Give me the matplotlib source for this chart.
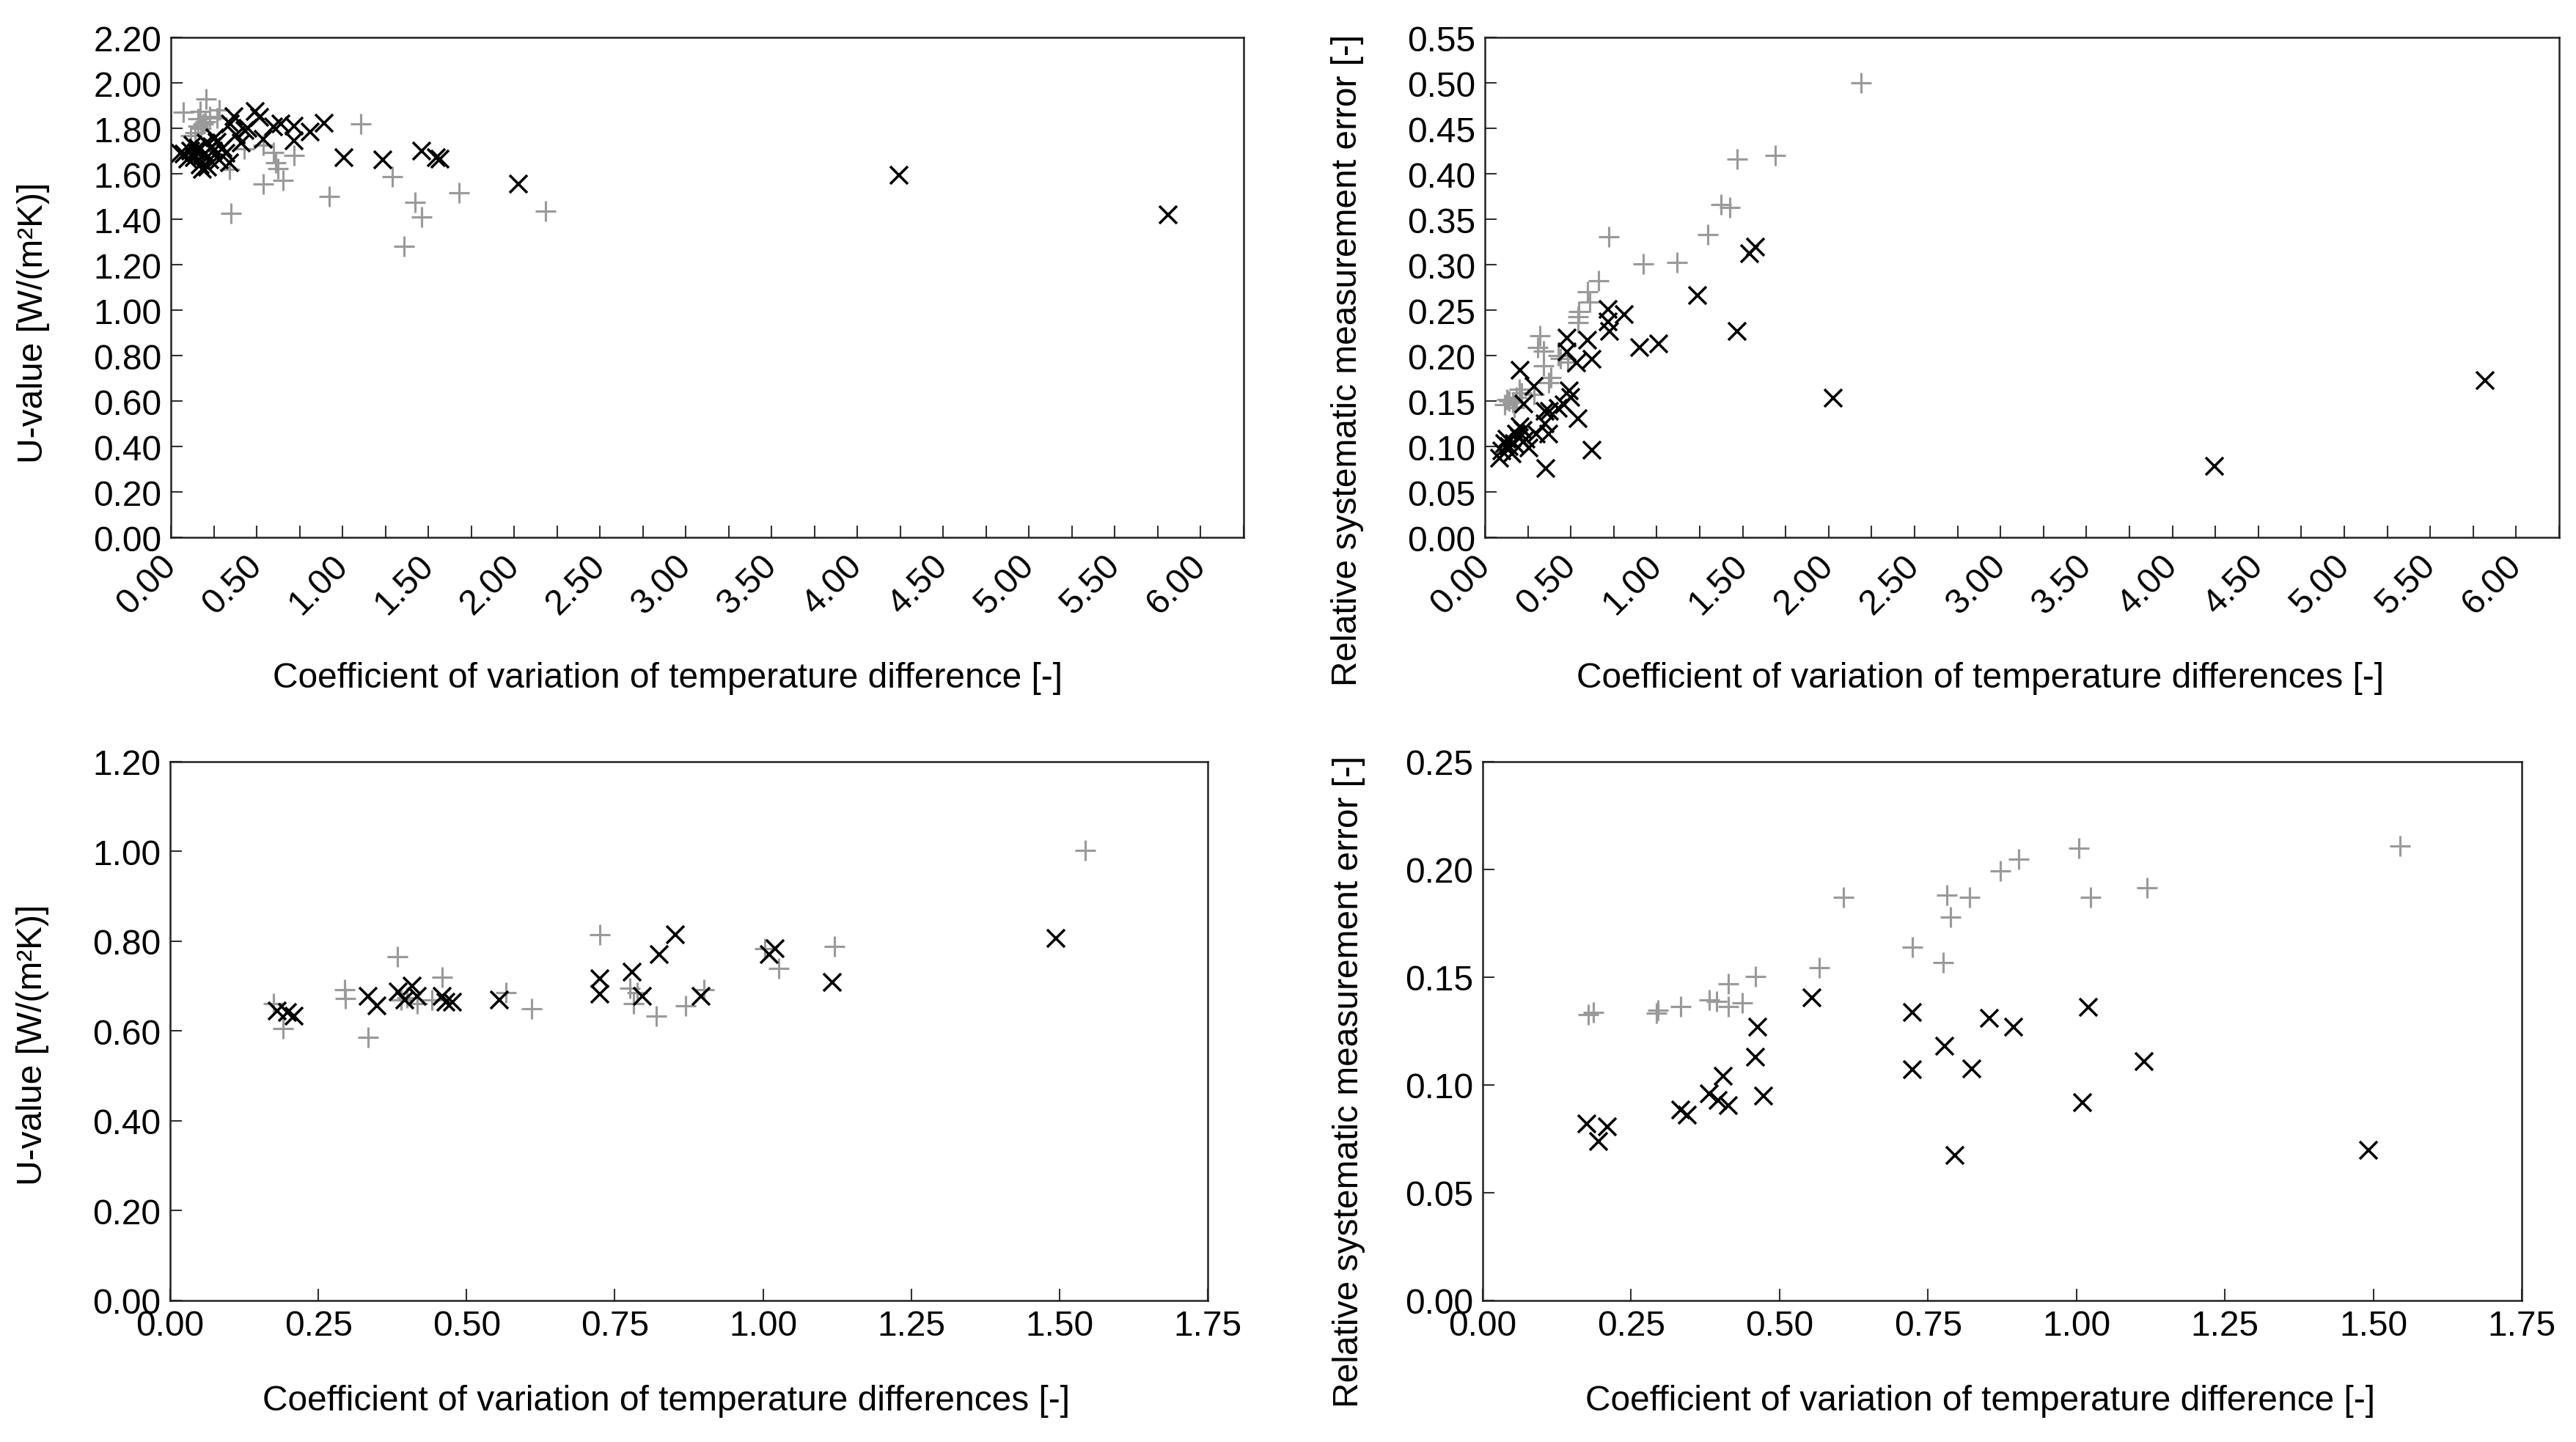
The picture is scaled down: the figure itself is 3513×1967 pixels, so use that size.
import numpy as np
import matplotlib
matplotlib.use("Agg")
import matplotlib.pyplot as plt
from matplotlib.ticker import MultipleLocator, FormatStrFormatter

plt.rcParams['font.family'] = ['Liberation Sans', 'DejaVu Sans']
plt.rcParams['font.size'] = 11.5

# panel 1: U-value vs coefficient of variation (all data)
u1_gray_x = [0.074, 0.206, 0.17, 0.156, 0.19, 0.284, 0.142, 0.114, 0.177, 0.227, 0.20, 0.16,
             0.27, 0.34, 0.35, 0.426, 0.54, 0.596, 0.61, 0.625, 0.717, 0.54, 0.653, 0.923,
             1.107, 1.29, 1.357, 1.424, 1.462, 1.68, 2.184]
u1_gray_y = [1.87, 1.928, 1.875, 1.843, 1.82, 1.88, 1.78, 1.768, 1.80, 1.853, 1.83, 1.81,
             1.845, 1.618, 1.425, 1.71, 1.725, 1.693, 1.65, 1.624, 1.682, 1.554, 1.57, 1.50,
             1.82, 1.587, 1.281, 1.474, 1.41, 1.517, 1.437]
u1_black_x = [0.057, 0.078, 0.10, 0.114, 0.128, 0.135, 0.15, 0.156, 0.17, 0.185, 0.19, 0.20,
              0.206, 0.213, 0.227, 0.24, 0.248, 0.255, 0.27, 0.284, 0.305, 0.32, 0.34, 0.348,
              0.369, 0.38, 0.41, 0.433, 0.45, 0.49, 0.518, 0.54, 0.596, 0.639, 0.717, 0.717,
              0.81, 0.894, 1.008, 1.234, 1.462, 1.548, 1.567, 2.023, 4.24, 5.81]
u1_black_y = [1.69, 1.688, 1.665, 1.70, 1.725, 1.67, 1.695, 1.714, 1.64, 1.62, 1.68, 1.69,
              1.736, 1.63, 1.66, 1.72, 1.70, 1.757, 1.74, 1.66, 1.714, 1.69, 1.65, 1.82,
              1.853, 1.77, 1.736, 1.79, 1.80, 1.875, 1.85, 1.752, 1.805, 1.82, 1.81, 1.746,
              1.784, 1.824, 1.67, 1.66, 1.70, 1.67, 1.665, 1.555, 1.594, 1.42]

# panel 2: relative systematic error vs coefficient of variation (all data)
e1_gray_x = [2.19, 1.688, 1.467, 1.373, 1.425, 1.297, 1.118, 0.923, 0.723, 0.66, 0.597,
             0.611, 0.547, 0.54, 0.54, 0.32, 0.306, 0.34, 0.426, 0.34, 0.384, 0.37, 0.20,
             0.213, 0.185, 0.142, 0.114, 0.17, 0.284, 0.483, 0.44, 0.16, 0.13]
e1_gray_y = [0.500, 0.42, 0.416, 0.366, 0.363, 0.333, 0.3025, 0.301, 0.331, 0.282, 0.27,
             0.259, 0.248, 0.243, 0.236, 0.222, 0.209, 0.205, 0.20, 0.189, 0.176, 0.17, 0.163,
             0.159, 0.154, 0.15, 0.146, 0.143, 0.157, 0.193, 0.197, 0.148, 0.152]
e1_black_x = [5.82, 4.243, 2.028, 1.467, 1.54, 1.573, 1.237, 0.90, 1.01, 0.81, 0.718, 0.718,
              0.725, 0.597, 0.476, 0.476, 0.533, 0.625, 0.206, 0.284, 0.227, 0.49, 0.50,
              0.462, 0.377, 0.348, 0.426, 0.54, 0.348, 0.37, 0.206, 0.185, 0.24, 0.114,
              0.142, 0.17, 0.085, 0.156, 0.256, 0.625, 0.355, 0.30, 0.13, 0.20, 0.22, 0.10]
e1_black_y = [0.1725, 0.078, 0.153, 0.227, 0.312, 0.319, 0.266, 0.209, 0.213, 0.245, 0.251,
              0.237, 0.227, 0.217, 0.219, 0.204, 0.192, 0.196, 0.184, 0.166, 0.147, 0.161,
              0.154, 0.146, 0.139, 0.139, 0.142, 0.131, 0.125, 0.114, 0.122, 0.114, 0.108,
              0.103, 0.10, 0.103, 0.087, 0.092, 0.098, 0.096, 0.076, 0.114, 0.108, 0.11,
              0.118, 0.095]

# panel 3: U-value vs coefficient of variation (subset)
u2_gray_x = [1.544, 0.725, 1.12, 1.026, 1.003, 0.383, 0.459, 0.294, 0.296, 0.175, 0.19,
             0.334, 0.39, 0.417, 0.442, 0.567, 0.61, 0.776, 0.782, 0.82, 0.87, 0.9, 0.788, 0.40]
u2_gray_y = [1.002, 0.815, 0.789, 0.74, 0.783, 0.765, 0.72, 0.692, 0.673, 0.661, 0.606,
             0.586, 0.669, 0.661, 0.669, 0.685, 0.649, 0.696, 0.661, 0.633, 0.657, 0.692,
             0.685, 0.675]
u2_black_x = [0.181, 0.198, 0.209, 0.334, 0.349, 0.385, 0.396, 0.408, 0.417, 0.459, 0.465,
              0.476, 0.555, 0.725, 0.725, 0.779, 0.796, 0.825, 0.852, 0.895, 1.011, 1.02,
              1.117, 1.494]
u2_black_y = [0.645, 0.641, 0.633, 0.677, 0.657, 0.688, 0.669, 0.70, 0.678, 0.677, 0.665,
              0.665, 0.669, 0.716, 0.683, 0.732, 0.677, 0.771, 0.815, 0.677, 0.771, 0.783,
              0.708, 0.807]

# panel 4: relative systematic error vs coefficient of variation (subset)
e2_gray_x = [0.178, 0.187, 0.295, 0.293, 0.333, 0.382, 0.394, 0.414, 0.414, 0.437, 0.46,
             0.567, 0.607, 0.724, 0.776, 0.782, 0.788, 0.82, 0.872, 0.903, 1.004, 1.024,
             1.119, 1.545]
e2_gray_y = [0.1327, 0.1338, 0.1347, 0.1335, 0.1363, 0.1396, 0.1388, 0.1363, 0.147, 0.138,
             0.1503, 0.1544, 0.187, 0.1638, 0.1569, 0.188, 0.178, 0.187, 0.1993, 0.2046,
             0.210, 0.187, 0.1914, 0.211]
e2_black_x = [0.175, 0.21, 0.195, 0.333, 0.344, 0.382, 0.396, 0.405, 0.414, 0.46, 0.463,
              0.473, 0.555, 0.724, 0.724, 0.778, 0.795, 0.824, 0.853, 0.894, 1.010, 1.02,
              1.114, 1.492]
e2_black_y = [0.082, 0.0807, 0.0737, 0.0886, 0.0861, 0.096, 0.0927, 0.1042, 0.0905, 0.113,
              0.127, 0.0948, 0.1404, 0.1338, 0.107, 0.118, 0.0672, 0.1075, 0.131, 0.127,
              0.0918, 0.136, 0.1108, 0.0696]

U_LABEL = 'U-value [W/(m²K)]'
E_LABEL = 'Relative systematic measurement error [-]'

fig = plt.figure(figsize=(11.71, 6.56), dpi=300)
ax1 = fig.add_axes([0.06633, 0.62703, 0.41645, 0.34654])
ax2 = fig.add_axes([0.57643, 0.62703, 0.41702, 0.34654])
ax3 = fig.add_axes([0.06604, 0.09807, 0.40279, 0.37348])
ax4 = fig.add_axes([0.57558, 0.09807, 0.40336, 0.37348])

panels = [
    (ax1, u1_gray_x, u1_gray_y, u1_black_x, u1_black_y),
    (ax2, e1_gray_x, e1_gray_y, e1_black_x, e1_black_y),
    (ax3, u2_gray_x, u2_gray_y, u2_black_x, u2_black_y),
    (ax4, e2_gray_x, e2_gray_y, e2_black_x, e2_black_y),
]

for ax, gx, gy, bx, by in panels:
    ax.plot(gx, gy, linestyle='none', marker='+', ms=6.6, mew=0.75, color='#9a9a9a')
    ax.plot(bx, by, linestyle='none', marker='x', ms=5.8, mew=0.85, color='black')
    for s in ax.spines.values():
        s.set_linewidth(0.6)
        s.set_color('#222222')
    ax.tick_params(which='both', direction='in', length=3.9, width=0.5, color='#333333',
                   pad=3, labelsize=11.5, top=False, right=False)

# top row: wide x range, rotated labels
for ax in (ax1, ax2):
    ax.set_xlim(0, 6.25)
    ax.xaxis.set_major_locator(MultipleLocator(0.5))
    ax.xaxis.set_minor_locator(MultipleLocator(0.25))
    ax.xaxis.set_major_formatter(FormatStrFormatter('%.2f'))
    ax.tick_params(axis='x', which='major', pad=7.5)
    for lbl in ax.get_xticklabels():
        lbl.set_rotation(45)
        lbl.set_rotation_mode('anchor')
        lbl.set_ha('right')
        lbl.set_va('center')

ax1.set_ylim(0, 2.2)
ax1.yaxis.set_major_locator(MultipleLocator(0.2))
ax2.set_ylim(0, 0.55)
ax2.yaxis.set_major_locator(MultipleLocator(0.05))

for ax in (ax3, ax4):
    ax.set_xlim(0, 1.75)
    ax.xaxis.set_major_locator(MultipleLocator(0.25))
    ax.xaxis.set_major_formatter(FormatStrFormatter('%.2f'))

ax3.set_ylim(0, 1.2)
ax3.yaxis.set_major_locator(MultipleLocator(0.2))
ax4.set_ylim(0, 0.25)
ax4.yaxis.set_major_locator(MultipleLocator(0.05))

for ax in (ax1, ax2, ax3, ax4):
    ax.yaxis.set_major_formatter(FormatStrFormatter('%.2f'))

ax1.set_xlabel('Coefficient of variation of temperature difference [-]')
ax2.set_xlabel('Coefficient of variation of temperature differences [-]')
ax3.set_xlabel('Coefficient of variation of temperature differences [-]')
ax4.set_xlabel('Coefficient of variation of temperature difference [-]')
ax1.set_ylabel(U_LABEL)
ax2.set_ylabel(E_LABEL)
ax3.set_ylabel(U_LABEL)
ax4.set_ylabel(E_LABEL)

ax1.xaxis.set_label_coords(0.463, -0.248)
ax2.xaxis.set_label_coords(0.461, -0.248)
ax3.xaxis.set_label_coords(0.478, -0.155)
ax4.xaxis.set_label_coords(0.479, -0.155)
ax1.yaxis.set_label_coords(-0.113, 0.43)
ax2.yaxis.set_label_coords(-0.1126, 0.356)
ax3.yaxis.set_label_coords(-0.1166, 0.475)
ax4.yaxis.set_label_coords(-0.1129, 0.407)

fig.savefig('out.png', dpi=300, facecolor='white')
